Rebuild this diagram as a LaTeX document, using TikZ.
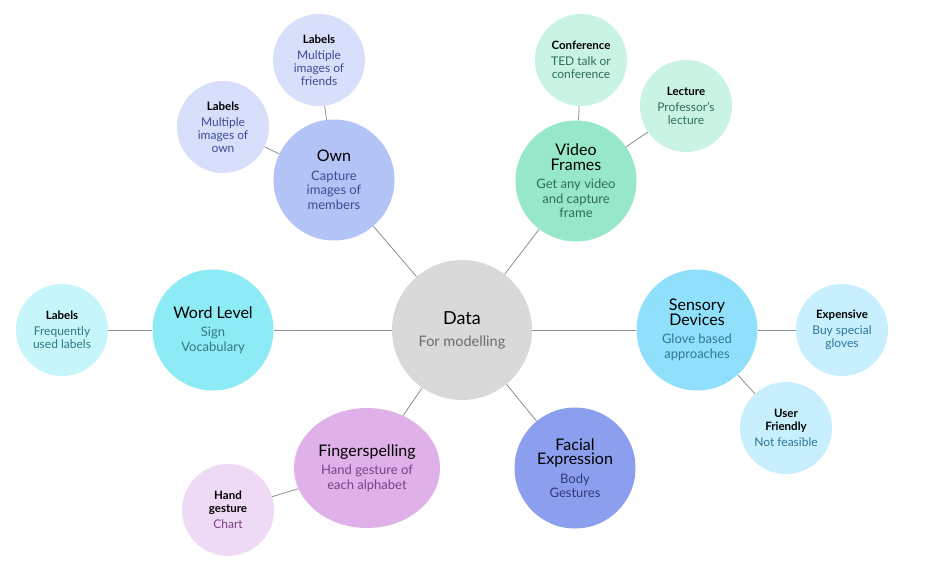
\documentclass[tikz,border=0pt]{standalone}
\usepackage{fontspec}
\setmainfont{Lato}
\usetikzlibrary{shapes.geometric}
\definecolor{datafill}{HTML}{D9D9D9}
\definecolor{datatext}{HTML}{6B6B6B}
\definecolor{ownfill}{HTML}{B4C3F5}
\definecolor{ownleaf}{HTML}{D8DFFA}
\definecolor{owntext}{HTML}{3E4C95}
\definecolor{vidfill}{HTML}{96E8C8}
\definecolor{vidleaf}{HTML}{C9F4E3}
\definecolor{vidtext}{HTML}{2F6E58}
\definecolor{wordfill}{HTML}{8CEBF4}
\definecolor{wordleaf}{HTML}{C7F6FA}
\definecolor{wordtext}{HTML}{2F7884}
\definecolor{sensfill}{HTML}{90E0FC}
\definecolor{sensleaf}{HTML}{C8EFFD}
\definecolor{senstext}{HTML}{2F7796}
\definecolor{fingfill}{HTML}{DFB1E8}
\definecolor{fingleaf}{HTML}{EFDAF5}
\definecolor{fingtext}{HTML}{7A4188}
\definecolor{facefill}{HTML}{8C9EEE}
\definecolor{facetext}{HTML}{2E3A78}
\definecolor{linkgray}{HTML}{8E8E8E}
\newcommand{\ttl}[1]{{\fontsize{16}{17}\selectfont\color{black}#1}}
\newcommand{\lttl}[1]{{\fontsize{11.5}{13}\selectfont\bfseries\color{black}#1}}
\tikzset{
  bub/.style={circle, inner sep=0pt, align=center},
  hub/.style={bub, minimum size=140pt, fill=datafill, text=datatext,
    font=\fontsize{14.5}{16}\selectfont},
  topic/.style={bub, minimum size=121pt, font=\fontsize{13}{14.5}\selectfont},
  leaf/.style={bub, minimum size=92pt, font=\fontsize{12}{13}\selectfont},
  link/.style={draw=linkgray, line width=0.8pt}
}
\begin{document}
\begin{tikzpicture}[x=1pt,y=-1pt]
\useasboundingbox (0,0) rectangle (936,578);
% centre
\node[hub] (data) at (462,330) {{\fontsize{18}{19}\selectfont\color{black}Data}\\[6pt]For modelling};
% topics
\node[topic, fill=ownfill, text=owntext] (own) at (334,180)
  {\ttl{Own}\\[4pt]Capture\\images of\\members};
\node[topic, fill=vidfill, text=vidtext] (video) at (576,181)
  {\ttl{Video}\\\ttl{Frames}\\[4pt]Get any video\\and capture\\frame};
\node[topic, fill=wordfill, text=wordtext] (word) at (213,330)
  {\ttl{Word Level}\\[4pt]Sign\\Vocabulary};
\node[topic, fill=sensfill, text=senstext] (sensory) at (697,330)
  {\ttl{Sensory}\\\ttl{Devices}\\[4pt]Glove based\\approaches};
\node[topic, ellipse, minimum width=146pt, minimum height=120pt, fill=fingfill, text=fingtext] (finger) at (367,468)
  {\ttl{Fingerspelling}\\[4pt]Hand gesture of\\each alphabet};
\node[topic, fill=facefill, text=facetext] (facial) at (575,468)
  {\ttl{Facial}\\\ttl{Expression}\\[4pt]Body\\Gestures};
% leaves
\node[leaf, fill=ownleaf, text=owntext] (labfriends) at (319,60)
  {\lttl{Labels}\\[3pt]Multiple\\images of\\friends};
\node[leaf, fill=ownleaf, text=owntext] (labown) at (223,127)
  {\lttl{Labels}\\[3pt]Multiple\\images of\\own};
\node[leaf, fill=vidleaf, text=vidtext] (conf) at (581,60)
  {\lttl{Conference}\\[3pt]TED talk or\\conference};
\node[leaf, fill=vidleaf, text=vidtext] (lecture) at (686,106)
  {\lttl{Lecture}\\[3pt]Professor's\\lecture};
\node[leaf, fill=wordleaf, text=wordtext] (labfreq) at (62,330)
  {\lttl{Labels}\\[3pt]Frequently\\used labels};
\node[leaf, fill=sensleaf, text=senstext] (expensive) at (842,330)
  {\lttl{Expensive}\\[3pt]Buy special\\gloves};
\node[leaf, fill=sensleaf, text=senstext] (user) at (786,428)
  {\lttl{User}\\\lttl{Friendly}\\[3pt]Not feasible};
\node[leaf, fill=fingleaf, text=fingtext] (hand) at (228,510)
  {\lttl{Hand}\\\lttl{gesture}\\[3pt]Chart};
% connectors
\foreach \a/\b in {data/own, data/video, data/word, data/sensory, data/finger, data/facial,
  own/labfriends, own/labown, video/conf, video/lecture, word/labfreq,
  sensory/expensive, sensory/user, finger/hand}
  \draw[link] (\a) -- (\b);
\end{tikzpicture}
\end{document}
